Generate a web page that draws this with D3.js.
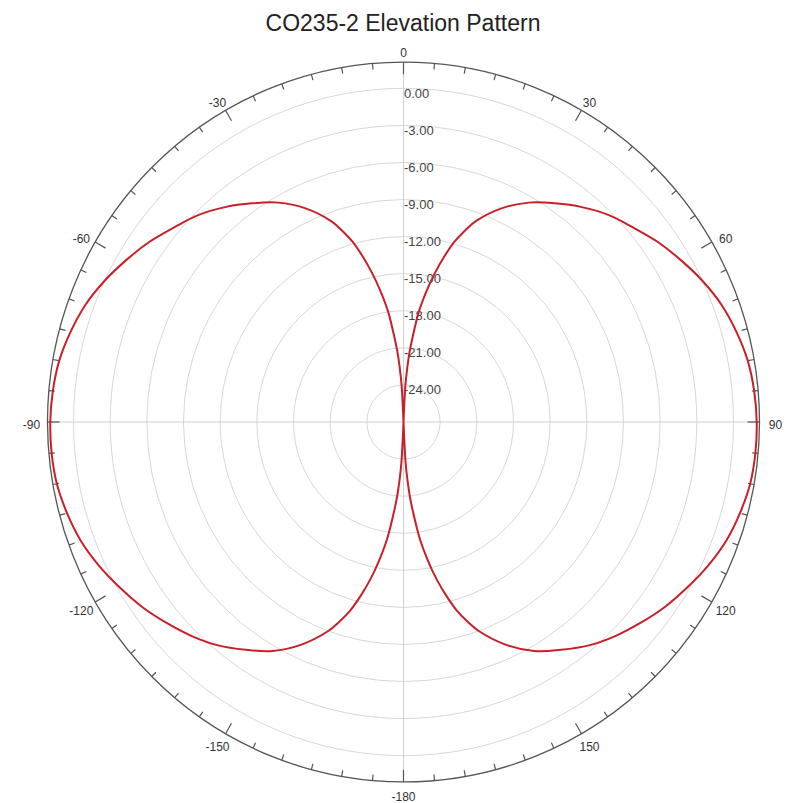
<!DOCTYPE html>
<html><head><meta charset="utf-8">
<script src="https://cdn.jsdelivr.net/npm/d3@7"></script>
<style>body{margin:0;background:#fff}svg{display:block}</style>
</head><body>
<svg id="c" width="793" height="803"></svg>
<script>
const title = "CO235-2 Elevation Pattern";
// elevation angle (deg, clockwise from top) and gain (dB)
const anglesRight = [0,1,2,3,4,5,6,8,10,12,14,16,18,20,25,30,35,40,45,50,55,60,65,70,75,80,85,90,
  95,100,105,110,115,120,125,130,135,140,145,150,155,160,162,164,166,168,170,172,174,175,176,177,178,179,180];
const gainRight = [-40,-34,-27,-24.0,-22.6,-21.3,-20.3,-18.0,-16.3,-14.7,-13.2,-11.8,-10.7,-9.7,-7.9,-6.5,-5.4,-4.3,-3.3,-2.5,-1.6,-0.8,0.0,0.7,1.2,1.6,1.8,1.9,
  1.9,1.8,1.5,1.1,0.5,-0.2,-0.9,-1.7,-2.5,-3.4,-4.5,-5.6,-7.1,-9.0,-10.0,-11.1,-12.5,-14.0,-15.7,-17.5,-19.8,-20.9,-22.2,-23.7,-27,-34,-40];
const anglesLeft = [-180,-179,-178,-177,-176,-175,-174,-172,-170,-168,-166,-164,-162,-160,-155,-150,-145,-140,-135,-130,-125,-120,-115,-110,-105,-100,-95,
  -90,-85,-80,-75,-70,-65,-60,-55,-50,-45,-40,-35,-30,-25,-20,-18,-16,-14,-12,-10,-8,-6,-5,-4,-3,-2,-1,0];
const gainLeft = [-40,-34,-27,-23.7,-22.2,-20.9,-19.8,-17.5,-15.7,-14.0,-12.5,-11.1,-10.0,-9.0,-7.1,-5.6,-4.5,-3.4,-2.5,-1.7,-0.9,-0.2,0.5,1.1,1.5,1.8,1.9,
  1.9,1.8,1.6,1.2,0.7,0.0,-0.8,-1.6,-2.5,-3.3,-4.3,-5.4,-6.5,-7.9,-9.7,-10.7,-11.8,-13.2,-14.7,-16.3,-18.0,-20.3,-21.3,-22.6,-24.0,-27,-34,-40];
const ringValues = [-24,-21,-18,-15,-12,-9,-6,-3,0];
const angleLabels = [0,30,60,90,120,150,-180,-150,-120,-90,-60,-30];

const cx = 403.5, cy = 422, ky = 1.011;
const R = 356;
const rLin = d3.scaleLinear().domain([-27, 0]).range([0, 330]);
const r = v => v <= -27 ? 0 : rLin(v);
const rad = d => d * Math.PI / 180;
const px = (a, rr) => cx + rr * Math.sin(rad(a));
const py = (a, rr) => cy - rr * Math.cos(rad(a)) * ky;

const svg = d3.select("#c");
svg.append("text").attr("x", 403).attr("y", 31).attr("text-anchor", "middle")
  .attr("font-family", "Liberation Sans, Arial, sans-serif").attr("font-size", 23)
  .attr("fill", "#222").text(title);

// rings
ringValues.forEach(v => {
  svg.append("ellipse").attr("cx", cx).attr("cy", cy).attr("rx", r(v)).attr("ry", r(v) * ky)
    .attr("fill", "none").attr("stroke", "#d8d8d8").attr("stroke-width", 1);
});
// axis lines (vertical and horizontal)
[0, 90, 180, 270].forEach(a => {
  svg.append("line").attr("x1", cx).attr("y1", cy).attr("x2", px(a, R)).attr("y2", py(a, R))
    .attr("stroke", "#d0d0d0").attr("stroke-width", 1);
});
// outer circle
svg.append("ellipse").attr("cx", cx).attr("cy", cy).attr("rx", R).attr("ry", R * ky)
  .attr("fill", "none").attr("stroke", "#555").attr("stroke-width", 1.3);
// ticks
d3.range(0, 360, 5).forEach(a => {
  const len = a % 30 === 0 ? 12 : 6;
  svg.append("line").attr("x1", px(a, R)).attr("y1", py(a, R)).attr("x2", px(a, R - len)).attr("y2", py(a, R - len))
    .attr("stroke", "#555").attr("stroke-width", 1.2);
});
// angle labels
angleLabels.forEach(a => {
  const rr = R + 16;
  svg.append("text").attr("x", cx + rr * Math.sin(rad(a))).attr("y", cy - rr * Math.cos(rad(a)) + 3)
    .attr("text-anchor", "middle").attr("dominant-baseline", "central")
    .attr("font-family", "Liberation Sans, Arial, sans-serif").attr("font-size", 12)
    .attr("fill", "#333").text(a);
});
// ring labels
ringValues.forEach(v => {
  svg.append("text").attr("x", 404).attr("y", cy - r(v) * ky + 5)
    .attr("dominant-baseline", "central")
    .attr("font-family", "Liberation Sans, Arial, sans-serif").attr("font-size", 13)
    .attr("fill", "#444").text(v === 0 ? "0.00" : v.toFixed(2));
});
// pattern
const pts = anglesRight.map((a, i) => [a, gainRight[i]])
  .concat(anglesLeft.map((a, i) => [a, gainLeft[i]]));
const line = d3.line().x(d => px(d[0], r(d[1]))).y(d => py(d[0], r(d[1])))
  .curve(d3.curveCatmullRom.alpha(0.5));
svg.append("path").attr("d", line(pts)).attr("fill", "none")
  .attr("stroke", "#c8202a").attr("stroke-width", 2);
</script>
</body></html>
